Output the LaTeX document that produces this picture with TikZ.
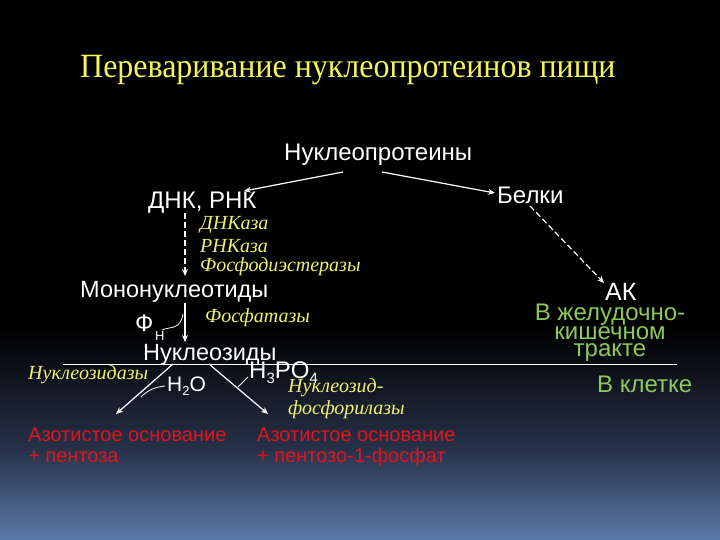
\documentclass[tikz,border=0pt]{standalone}
\usepackage{fontspec}
\setmainfont{Liberation Serif}
\setsansfont{Liberation Sans}
\newfontfamily\ttlfont[FakeStretch=0.94]{Liberation Serif}
\usetikzlibrary{arrows.meta}
\definecolor{ttl}{RGB}{245,245,90}
\definecolor{enz}{RGB}{240,240,110}
\definecolor{prod}{RGB}{225,20,30}
\definecolor{grn}{RGB}{140,200,90}
\definecolor{bgm}{RGB}{39,50,74}
\definecolor{bgb}{RGB}{92,122,170}
\tikzset{
  lbl/.style={text=white,font=\sffamily\fontsize{24}{24}\selectfont,inner sep=0pt,anchor=west},
  enzl/.style={text=enz,font=\itshape\fontsize{20}{20}\selectfont,inner sep=0pt,anchor=west},
  redl/.style={text=prod,font=\sffamily\fontsize{20}{20}\selectfont,inner sep=0pt,anchor=west},
  grnl/.style={text=grn,font=\sffamily\fontsize{24}{17}\selectfont,inner sep=0pt,align=center},
  arr/.style={white,line width=1.2pt,-{Stealth[length=7pt,width=6pt]}},
  darr/.style={arr,dash pattern=on 6pt off 3pt},
}
\begin{document}
\begin{tikzpicture}[x=1pt,y=-1pt]
\useasboundingbox (0,0) rectangle (720,540);
\fill[black] (0,0) rectangle (720,331);
\shade[top color=black,bottom color=bgm] (0,330) rectangle (720,451);
\shade[top color=bgm,bottom color=bgb] (0,450) rectangle (720,540);
\node[text=ttl,font=\ttlfont\fontsize{34}{34}\selectfont,inner sep=0pt,anchor=west] (title) at (80,70) {Переваривание нуклеопротеинов пищи};
\node[lbl] (np) at (284,155) {Нуклеопротеины};
\node[lbl] (dnk) at (148,203) {ДНК, РНК};
\node[lbl] (bel) at (497,195) {Белки};
\coordinate (npl) at (343,172);
\coordinate (npr) at (382,172);
\coordinate (dnkt) at (244,191);
\coordinate (belt) at (495,193);
\draw[arr] (npl) -- (dnkt);
\draw[arr] (npr) -- (belt);
\coordinate (d1) at (185,213);
\coordinate (d2) at (185,276);
\draw[darr] (d1) -- (d2);
\node[enzl] (e1) at (200,225) {ДНКаза};
\node[enzl] (e2) at (200,246) {РНКаза};
\node[enzl] (e3) at (200,267) {Фосфодиэстеразы};
\node[lbl,font=\sffamily\fontsize{23.5}{23.5}\selectfont] (mono) at (80,292) {Мононуклеотиды};
\coordinate (m1) at (185,303);
\coordinate (m2) at (185,342);
\draw[arr] (m1) -- (m2);
\node[lbl] (fn) at (135,323) {Ф};
\node[lbl,font=\sffamily\fontsize{13}{13}\selectfont] (fnsub) at (155,336) {Н};
\draw[white,line width=0.8pt] (162,330) .. controls (172,326) and (180,330) .. (183,314);
\node[enzl] (fosf) at (205,318) {Фосфатазы};
\node[lbl,font=\sffamily\fontsize{23.5}{23.5}\selectfont] (nukl) at (143,355) {Нуклеозиды};
\coordinate (hl1) at (63,364);
\coordinate (hl2) at (677,364);
\draw[white,line width=1pt] (hl1) -- (hl2);
\node[enzl] (nz) at (28,375) {Нуклеозидазы};
\coordinate (a1) at (173,364);
\coordinate (a1e) at (116,414);
\draw[arr] (a1) -- (a1e);
\coordinate (a2) at (209,364);
\coordinate (a2e) at (268,414);
\draw[arr] (a2) -- (a2e);
\node[lbl,font=\sffamily\fontsize{21}{21}\selectfont] (h2o) at (167,386) {H\raisebox{-0.35ex}{\fontsize{13}{13}\selectfont 2}O};
\draw[white,line width=0.8pt] (165,386) .. controls (155,387) and (148,390) .. (141,397);
\node[lbl,font=\sffamily\fontsize{24}{24}\selectfont] (h3po4) at (249,373) {H\raisebox{-0.4ex}{\fontsize{15}{15}\selectfont 3}PO\raisebox{-0.4ex}{\fontsize{15}{15}\selectfont 4}};
\draw[white,line width=0.8pt] (248,377) -- (238,387);
\node[enzl] (nf1) at (288,388) {Нуклеозид-};
\node[enzl] (nf2) at (288,410) {фосфорилазы};
\node[redl] (r1) at (28,435) {Азотистое основание};
\node[redl] (r2) at (28,457) {+ пентоза};
\node[redl] (r3) at (257,435) {Азотистое основание};
\node[redl] (r4) at (257,457) {+ пентозо-1-фосфат};
\coordinate (b1) at (530,206);
\coordinate (b2) at (604,283);
\draw[darr] (b1) -- (b2);
\node[lbl,font=\sffamily\fontsize{25}{25}\selectfont] (ak) at (605,292) {АК};
\node[grnl] (zkt) at (610,333) {В желудочно-\\кишечном\\тракте};
\node[grnl,anchor=west] (kl) at (597,384) {В клетке};
\end{tikzpicture}
\end{document}
